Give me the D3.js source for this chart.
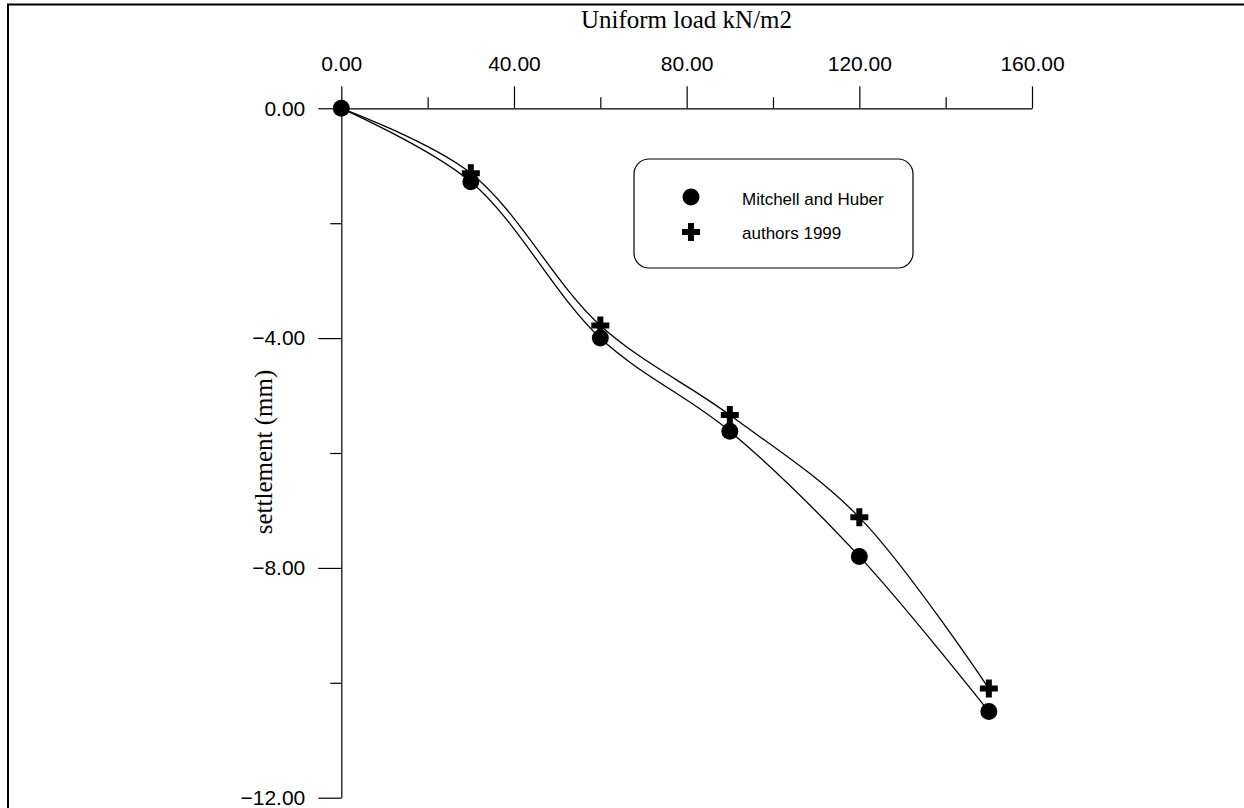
<!DOCTYPE html>
<html>
<head>
<meta charset="utf-8">
<script src="https://cdn.jsdelivr.net/npm/d3@7"></script>
<style>
  body { margin: 0; background: #fff; }
  svg { display: block; }
  .tick text { font-family: "Liberation Sans", Arial, sans-serif; font-size: 21px; fill: #000; }
  .tick line, .domain { stroke: #000; stroke-width: 1.2; }
</style>
</head>
<body>
<div id="chart"></div>
<script>
// load values
const loads = [0, 30, 60, 90, 120, 150];
const mitchellHuber = [0, -1.28, -4.0, -5.62, -7.8, -10.5];
const authors1999 = [0, -1.13, -3.78, -5.34, -7.12, -10.1];

const xMajor = [0, 40, 80, 120, 160];
const xMinor = [20, 60, 100, 140];
const yMajor = [0, -4, -8, -12];
const yMinor = [-2, -6, -10];

const xLabel = "Uniform load kN/m2";
const yLabel = "settlement (mm)";
const legendNames = ["Mitchell and Huber", "authors 1999"];

var W = 1244, H = 808;

const svg = d3.select("#chart")
  .append("svg")
    .attr("width", W)
    .attr("height", H);

// page frame (top + left only)
svg.append("path")
  .attr("d", "M8,808 L8,4.5 L1244,4.5")
  .attr("fill", "none")
  .attr("stroke", "#000")
  .attr("stroke-width", 2);

var x = d3.scaleLinear().domain([0, 160]).range([341.3, 1032]);
var y = d3.scaleLinear().domain([0, -12]).range([108.3, 797.7]);
var fmt = d3.format(".2f");

// X axis on top
svg.append("g")
  .attr("transform", `translate(0,${y(0)})`)
  .call(d3.axisTop(x).tickValues(xMinor).tickSize(11).tickSizeOuter(0).tickFormat(""))
  .call(g => g.select(".domain").remove());
svg.append("g")
  .attr("transform", `translate(0,${y(0)})`)
  .call(d3.axisTop(x).tickValues(xMajor).tickSize(22).tickSizeOuter(0).tickPadding(15).tickFormat(fmt));

// Y axis
svg.append("g")
  .attr("transform", `translate(${x(0)},0)`)
  .call(d3.axisLeft(y).tickValues(yMinor).tickSize(11).tickSizeOuter(0).tickFormat(""))
  .call(g => g.select(".domain").remove());
svg.append("g")
  .attr("transform", `translate(${x(0)},0)`)
  .call(d3.axisLeft(y).tickValues(yMajor).tickSize(23).tickSizeOuter(0).tickPadding(13).tickFormat(fmt));

// axis titles
svg.append("text")
  .attr("x", (578 + 795) / 2)
  .attr("y", 28)
  .attr("text-anchor", "middle")
  .style("font-family", "'Liberation Serif', 'Times New Roman', serif")
  .style("font-size", "25px")
  .text(xLabel);

svg.append("text")
  .attr("transform", "translate(272,452) rotate(-90)")
  .attr("text-anchor", "middle")
  .style("font-family", "'Liberation Serif', 'Times New Roman', serif")
  .style("font-size", "25px")
  .text(yLabel);

// lines
const mhData = loads.map((d, i) => ({x: d, y: mitchellHuber[i]}));
const auData = loads.map((d, i) => ({x: d, y: authors1999[i]}));

var line = d3.line()
  .x(d => x(d.x))
  .y(d => y(d.y))
  .curve(d3.curveCatmullRom.alpha(0.5));

[mhData, auData].forEach(data => {
  svg.append("path")
    .datum(data)
    .attr("d", line)
    .attr("fill", "none")
    .attr("stroke", "#000")
    .attr("stroke-width", 1.3);
});

// markers
const plusPath = "M-3,-9H3V-3H9V3H3V9H-3V3H-9V-3H-3Z";

svg.selectAll(".mh")
  .data(mhData)
  .enter()
  .append("circle")
    .attr("class", "mh")
    .attr("cx", d => x(d.x))
    .attr("cy", d => y(d.y))
    .attr("r", 8.5)
    .attr("fill", "#000");

svg.selectAll(".au")
  .data(auData.slice(1))
  .enter()
  .append("path")
    .attr("class", "au")
    .attr("transform", d => `translate(${x(d.x)},${y(d.y)})`)
    .attr("d", plusPath)
    .attr("fill", "#000");

// legend
const legend = svg.append("g");
legend.append("rect")
  .attr("x", 634).attr("y", 159)
  .attr("width", 279).attr("height", 109)
  .attr("rx", 15).attr("ry", 15)
  .attr("fill", "#fff")
  .attr("stroke", "#000")
  .attr("stroke-width", 1.2);

legend.append("circle")
  .attr("cx", 691).attr("cy", 197).attr("r", 8.5).attr("fill", "#000");
legend.append("path")
  .attr("transform", "translate(691,232)")
  .attr("d", plusPath)
  .attr("fill", "#000");

legend.selectAll(".ltext")
  .data(legendNames)
  .enter()
  .append("text")
    .attr("class", "ltext")
    .attr("x", 742)
    .attr("y", (d, i) => 205 + i * 34)
    .style("font-family", "'Liberation Sans', Arial, sans-serif")
    .style("font-size", "17px")
    .text(d => d);
</script>
</body>
</html>
